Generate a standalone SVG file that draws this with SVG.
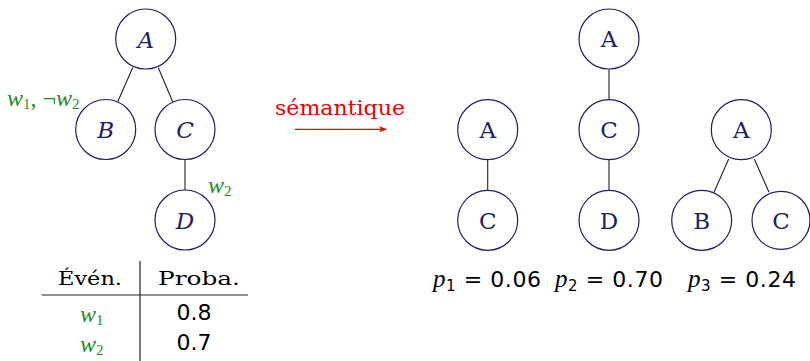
<svg xmlns="http://www.w3.org/2000/svg" width="810" height="361" viewBox="0 0 810 361">
<style>
.node circle{fill:#fff;stroke:#1f1f66;stroke-width:1.2}
.lbl{font-family:"DejaVu Serif",serif;font-size:23px;fill:#1f1f66;text-anchor:middle}
.it{font-style:italic}
.edge{stroke:#222;stroke-width:1.1;fill:none}
.g{fill:#1e8c1e;font-family:"Liberation Serif",serif;font-size:24px}
.sub{font-size:15px}
.txt{font-family:"DejaVu Serif",serif;font-size:19px;fill:#000}
.num{font-family:"DejaVu Sans",sans-serif;font-size:22px;fill:#000}
.m{font-family:"Liberation Serif",serif;font-style:italic;font-size:25px}
</style>
<defs>
<marker id="ah" markerWidth="8" markerHeight="6" refX="7" refY="3" orient="auto" markerUnits="userSpaceOnUse">
<path d="M0,0 L8,3 L0,6 L2,3 Z" fill="#e00"/>
</marker>
</defs>
<g id="connectors">
<line class="edge" x1="132.7" y1="67.7" x2="117.7" y2="101.7"/>
<line class="edge" x1="158.3" y1="67.7" x2="172.7" y2="101.7"/>
<line class="edge" x1="185" y1="160" x2="185" y2="190"/>
<line class="edge" x1="487.7" y1="160" x2="487.7" y2="190"/>
<line class="edge" x1="609" y1="69.5" x2="609" y2="99.5"/>
<line class="edge" x1="609" y1="160" x2="609" y2="190"/>
<line class="edge" x1="728.7" y1="159" x2="714" y2="192.3"/>
<line class="edge" x1="754.3" y1="159" x2="769" y2="192.3"/>
<line x1="295" y1="129.3" x2="386" y2="129.3" stroke="#e00" stroke-width="1.2" marker-end="url(#ah)"/>
</g>
<g id="L_A" class="node"><circle cx="145.7" cy="39" r="30"/><text class="lbl it" x="145.7" y="47.5">A</text></g>
<g id="L_B" class="node"><circle cx="105.7" cy="129.5" r="30"/><text class="lbl it" x="105.7" y="138">B</text></g>
<g id="L_C" class="node"><circle cx="185" cy="129.5" r="30"/><text class="lbl it" x="185" y="138">C</text></g>
<g id="L_D" class="node"><circle cx="185" cy="220" r="30"/><text class="lbl it" x="185" y="228.5">D</text></g>
<g id="label_w1w2"><text class="g" x="7" y="106"><tspan class="it">w</tspan><tspan class="sub" dy="3">1</tspan><tspan dy="-3">, ¬</tspan><tspan class="it">w</tspan><tspan class="sub" dy="3">2</tspan></text></g>
<g id="label_w2"><text class="g" x="208" y="193"><tspan class="it">w</tspan><tspan class="sub" dy="3">2</tspan></text></g>
<g id="table">
<line x1="41.7" y1="295" x2="248" y2="295" stroke="#222" stroke-width="1.2"/>
<line x1="140" y1="261" x2="140" y2="361" stroke="#222" stroke-width="1.2"/>
<text class="txt" x="90" y="285" text-anchor="middle" textLength="64" lengthAdjust="spacingAndGlyphs">Évén.</text>
<text class="txt" x="199" y="285" text-anchor="middle" textLength="82" lengthAdjust="spacingAndGlyphs">Proba.</text>
<text class="g" x="80" y="322"><tspan class="it">w</tspan><tspan class="sub" dy="3">1</tspan></text>
<text class="g" x="80" y="352"><tspan class="it">w</tspan><tspan class="sub" dy="3">2</tspan></text>
<text class="num" x="194" y="320" text-anchor="middle">0.8</text>
<text class="num" x="194" y="350" text-anchor="middle">0.7</text>
</g>
<g id="arrow_label"><text x="340" y="115" text-anchor="middle" font-family="DejaVu Serif, serif" font-size="21" fill="#e00" textLength="130" lengthAdjust="spacingAndGlyphs">sémantique</text></g>
<g id="T1_A" class="node"><circle cx="487.7" cy="129.7" r="30"/><text class="lbl" x="487.7" y="138">A</text></g>
<g id="T1_C" class="node"><circle cx="487.7" cy="220.3" r="30"/><text class="lbl" x="487.7" y="228.6">C</text></g>
<g id="T2_A" class="node"><circle cx="609" cy="39" r="30"/><text class="lbl" x="609" y="47.3">A</text></g>
<g id="T2_C" class="node"><circle cx="609" cy="129.7" r="30"/><text class="lbl" x="609" y="138">C</text></g>
<g id="T2_D" class="node"><circle cx="609" cy="220.3" r="30"/><text class="lbl" x="609" y="228.6">D</text></g>
<g id="T3_A" class="node"><circle cx="741.3" cy="129.7" r="30"/><text class="lbl" x="741.3" y="138">A</text></g>
<g id="T3_B" class="node"><circle cx="701.7" cy="220.3" r="30"/><text class="lbl" x="701.7" y="228.6">B</text></g>
<g id="T3_C" class="node"><circle cx="781" cy="220.3" r="29"/><text class="lbl" x="781" y="228.6">C</text></g>
<g id="probs">
<text class="num" x="433" y="287" textLength="108" lengthAdjust="spacing"><tspan class="m">p</tspan><tspan font-size="15" dy="4">1</tspan><tspan dy="-4"> = 0.06</tspan></text>
<text class="num" x="555" y="287" textLength="108" lengthAdjust="spacing"><tspan class="m">p</tspan><tspan font-size="15" dy="4">2</tspan><tspan dy="-4"> = 0.70</tspan></text>
<text class="num" x="688" y="287" textLength="108" lengthAdjust="spacing"><tspan class="m">p</tspan><tspan font-size="15" dy="4">3</tspan><tspan dy="-4"> = 0.24</tspan></text>
</g>
</svg>
